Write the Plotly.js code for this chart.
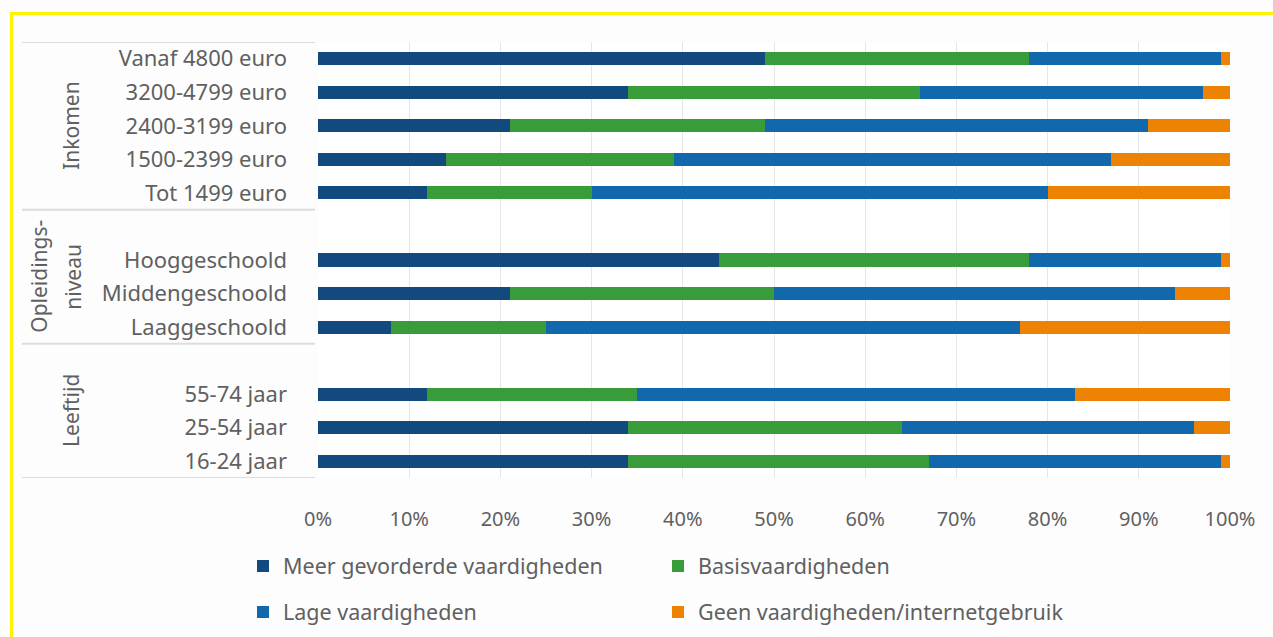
<!DOCTYPE html>
<html>
<head>
<meta charset="utf-8">
<script src="https://cdn.plot.ly/plotly-3.0.1.min.js"></script>
<style>
  html, body { margin: 0; padding: 0; background: #ffffff; }
  #chart { width: 1273px; height: 637px; }
  #frame {
    position: absolute; left: 10px; top: 12px; width: 1400px; height: 800px;
    border-top: 3px solid #fff200; border-left: 3px solid #fff200;
    pointer-events: none;
  }
</style>
</head>
<body>
<div id="chart"></div>
<div id="frame"></div>
<script>
// Digitale vaardigheden naar inkomen, opleidingsniveau en leeftijd (aandeel in %)
const categories = [
  'Vanaf 4800 euro', '3200-4799 euro', '2400-3199 euro', '1500-2399 euro', 'Tot 1499 euro',
  'Hooggeschoold', 'Middengeschoold', 'Laaggeschoold',
  '55-74 jaar', '25-54 jaar', '16-24 jaar'
];
const categoryGroup = [0, 0, 0, 0, 0, 1, 1, 1, 2, 2, 2];
const groupNames = [['Inkomen'], ['Opleidings-', 'niveau'], ['Leeftijd']];

const meerGevorderd = [49, 34, 21, 14, 12, 44, 21, 8, 12, 34, 34];
const basis         = [29, 32, 28, 25, 18, 34, 29, 17, 23, 30, 33];
const laag          = [21, 31, 42, 48, 50, 21, 44, 52, 48, 32, 32];
const geen          = [1, 3, 9, 13, 20, 1, 6, 23, 17, 4, 1];

const seriesNames = ['Meer gevorderde vaardigheden', 'Basisvaardigheden',
                     'Lage vaardigheden', 'Geen vaardigheden/internetgebruik'];
const xTicks = [0, 10, 20, 30, 40, 50, 60, 70, 80, 90, 100];

// Slot per category: an empty slot opens every group after the first
const slots = [];
let s = 0;
categories.forEach((c, i) => {
  if (i > 0 && categoryGroup[i] !== categoryGroup[i - 1]) s++;
  slots.push(s);
  s++;
});
const lastSlot = slots[slots.length - 1];

// Group extents on the category axis
const groupSpans = groupNames.map((g, gi) => {
  const idx = slots.filter((_, i) => categoryGroup[i] === gi);
  const top = Math.min(...idx) - (gi > 0 ? 1 : 0) - 0.5;
  const bottom = Math.max(...idx) + 0.5;
  return { top, bottom };
});

const colors = ['#124a80', '#399c3b', '#1268ac', '#ee8203'];
const values = [meerGevorderd, basis, laag, geen];

const plotLeft = 318, plotWidth = 912, plotTop = 42, plotHeight = 436;
const px = v => (v - plotLeft) / plotWidth;
const py = v => (plotTop + plotHeight - v) / plotHeight;

const traces = values.map((vals, k) => ({
  type: 'bar',
  orientation: 'h',
  name: seriesNames[k],
  x: vals,
  y: slots,
  width: 0.39,
  marker: { color: colors[k], line: { width: 0 } },
  legend: k < 2 ? 'legend' : 'legend2',
  hoverinfo: 'skip'
}));

const textColor = '#606060';
const shapes = [];
const boundaries = new Set();
groupSpans.forEach(g => { boundaries.add(g.top); boundaries.add(g.bottom); });
boundaries.forEach(b => shapes.push({
  type: 'line', xref: 'paper', yref: 'y',
  x0: px(22), x1: px(315), y0: b, y1: b,
  line: { color: '#dcdcdc', width: 2 }
}));

const annotations = [];
groupNames.forEach((lines, gi) => {
  const mid = (groupSpans[gi].top + groupSpans[gi].bottom) / 2;
  const centers = lines.length === 1 ? [71] : [39, 73];
  lines.forEach((t, li) => annotations.push({
    xref: 'paper', yref: 'y', x: px(centers[li]), y: mid,
    text: t, textangle: -90, showarrow: false,
    xanchor: 'center', yanchor: 'middle',
    font: { size: 21, color: textColor }
  }));
});

const legendCommon = {
  orientation: 'h', xanchor: 'left', yanchor: 'middle',
  x: px(243), entrywidth: 370, entrywidthmode: 'pixels',
  font: { size: 21.5, color: textColor }, bgcolor: 'rgba(0,0,0,0)',
  traceorder: 'normal'
};

const layout = {
  width: 1273, height: 637,
  margin: { l: plotLeft, r: 1273 - plotLeft - plotWidth, t: plotTop,
            b: 637 - plotTop - plotHeight, autoexpand: false },
  paper_bgcolor: '#fdfdfd', plot_bgcolor: '#ffffff',
  font: { family: 'Noto Sans, Open Sans, sans-serif', color: textColor },
  barmode: 'stack',
  showlegend: true,
  xaxis: {
    range: [0, 100], tickvals: xTicks, ticktext: xTicks.map(v => v + '%'),
    showgrid: true, gridcolor: '#e6e6e6', gridwidth: 1, zeroline: false,
    showline: false, ticks: '', ticklabelstandoff: 27, automargin: false,
    tickfont: { size: 20, color: textColor }, fixedrange: true
  },
  yaxis: {
    range: [lastSlot + 0.5, -0.5], tickvals: slots, ticktext: categories,
    showgrid: false, zeroline: false, showline: false, ticks: '', automargin: false,
    ticklabelstandoff: 30, tickfont: { size: 22, color: textColor }, fixedrange: true
  },
  legend: Object.assign({}, legendCommon, { y: py(566) }),
  legend2: Object.assign({}, legendCommon, { y: py(612) }),
  shapes, annotations
};

Plotly.newPlot('chart', traces, layout, { staticPlot: true, displayModeBar: false });
</script>
</body>
</html>
